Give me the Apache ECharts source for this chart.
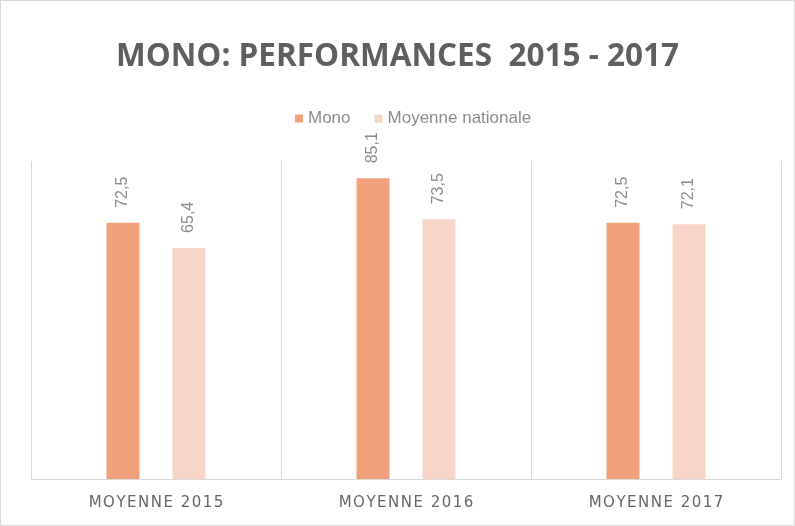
<!DOCTYPE html>
<html><head><meta charset="utf-8">
<script src="https://cdn.jsdelivr.net/npm/echarts@6/dist/echarts.min.js"></script>
<style>html,body{margin:0;padding:0;background:#fff}#c{width:795px;height:526px;box-sizing:border-box;border:1px solid #d9d9d9}</style>
</head><body><div id="c"></div>
<script>
const categories = ['MOYENNE 2015', 'MOYENNE 2016', 'MOYENNE 2017'];
const monoValues = [72.5, 85.1, 72.5];
const nationaleValues = [65.4, 73.5, 72.1];
const seriesNames = ['Mono', 'Moyenne nationale'];

const chart = echarts.init(document.getElementById('c'));
const fmt = p => String(p.value).replace('.', ',');
const lbl = {
  show: true, position: 'top', rotate: 90, align: 'left', verticalAlign: 'middle',
  distance: 15, color: '#8c8c8c', fontSize: 16, fontFamily: 'Liberation Sans, sans-serif', formatter: fmt
};
chart.setOption({
  animation: false,
  title: {
    text: 'MONO: PERFORMANCES  2015 - 2017', left: 'center', top: 35,
    textStyle: { color: '#5f5f5f', fontSize: 31.5, fontWeight: 'bold', fontFamily: 'Open Sans, sans-serif' }
  },
  legend: {
    data: seriesNames, top: 104, left: 289, itemWidth: 8, itemHeight: 8, itemGap: 24,
    icon: 'rect',
    textStyle: { color: '#8c8c8c', fontSize: 17, fontFamily: 'Liberation Sans, sans-serif' }
  },
  grid: { left: 30, right: 13, top: 160, bottom: 46 },
  xAxis: {
    type: 'category', data: categories,
    axisLine: { lineStyle: { color: '#d9d9d9' } },
    axisTick: { show: false },
    splitLine: { show: true, lineStyle: { color: '#d9d9d9' } },
    axisLabel: { color: '#666666', fontSize: 15, margin: 17, fontFamily: 'DejaVu Sans, sans-serif',
      formatter: v => v.split('').join('\u200A') }
  },
  yAxis: { type: 'value', min: 0, max: 90, show: false, splitLine: { show: false } },
  series: [
    { name: seriesNames[0], type: 'bar', data: monoValues, barWidth: 33, barGap: '100%',
      itemStyle: { color: '#F0A07A' }, label: lbl },
    { name: seriesNames[1], type: 'bar', data: nationaleValues, barWidth: 33,
      itemStyle: { color: '#F7D5C8' }, label: lbl }
  ]
});
</script></body></html>
